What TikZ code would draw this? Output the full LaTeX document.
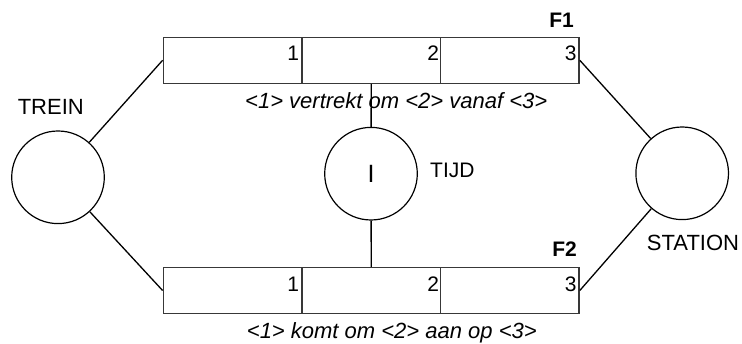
\documentclass[tikz,border=0pt]{standalone}
\usepackage{fontspec}
\setmainfont{Liberation Sans}
\begin{document}
\begin{tikzpicture}[x=1pt,y=-1pt,
  lbl/.style={font=\fontsize{22}{26}\selectfont, inner sep=0pt},
  num/.style={font=\fontsize{21}{25}\selectfont, inner sep=0pt, anchor=base east},
  captext/.style={font=\fontsize{22}{26}\selectfont\itshape, inner sep=0pt, anchor=base west},
  ftag/.style={font=\fontsize{21}{25}\selectfont\bfseries, inner sep=0pt, anchor=base east},
  cell/.style={draw=black!78, line width=1.4pt, rectangle, minimum width=138.6pt, minimum height=46pt, inner sep=0pt},
  ent/.style={draw=black, line width=1.2pt, circle, minimum size=92.6pt, inner sep=0pt},
  link/.style={draw=black, line width=1.3pt}]
\useasboundingbox (0,0) rectangle (742,344);
% fact type F1
\node[cell] (a1) at (232.6,60.3) {};
\node[cell] (a2) at (371.2,60.3) {};
\node[cell] (a3) at (509.8,60.3) {};
% fact type F2
\node[cell] (b1) at (232.6,290.5) {};
\node[cell] (b2) at (371.2,290.5) {};
\node[cell] (b3) at (509.8,290.5) {};
% role numbers
\node[num] at ([xshift=-3.3pt,yshift=-0.4pt]a1.east) {1};
\node[num] at ([xshift=-2pt,yshift=-0.4pt]a2.east) {2};
\node[num] at ([xshift=-3pt,yshift=-0.4pt]a3.east) {3};
\node[num] at ([xshift=-3.3pt,yshift=-1.2pt]b1.east) {1};
\node[num] at ([xshift=-2pt,yshift=-1.2pt]b2.east) {2};
\node[num] at ([xshift=-3pt,yshift=-1.2pt]b3.east) {3};
% tags
\node[ftag] (f1) at (574,27.7) {F1};
\node[ftag] (f2) at (577,256.7) {F2};
% captions
\node[captext] (c1) at (245,108.5) {<1> vertrekt om <2> vanaf <3>};
\node[captext] (c2) at (246.7,339) {<1> komt om <2> aan op <3>};
% entities
\node[ent] (trein) at (58,177.3) {};
\node[ent, font=\fontsize{25}{28}\selectfont] (tijd) at (371,173.7) {I};
\node[ent] (station) at (682.2,173.3) {};
\node[lbl, anchor=base] (lt) at (50.8,115) {TREIN};
\node[lbl, anchor=base west, font=\fontsize{21}{25}\selectfont] (lj) at (430,177.7) {TIJD};
\node[lbl, anchor=base] (ls) at (693,251) {STATION};
% connectors
\draw[link] (trein) -- (a1.west);
\draw[link] (trein) -- (b1.west);
\draw[link] (station) -- (a3.east);
\draw[link] (station) -- (b3.east);
\draw[link] (a2.south) -- (tijd);
\draw[link] (tijd) -- (b2.north);
\end{tikzpicture}
\end{document}
